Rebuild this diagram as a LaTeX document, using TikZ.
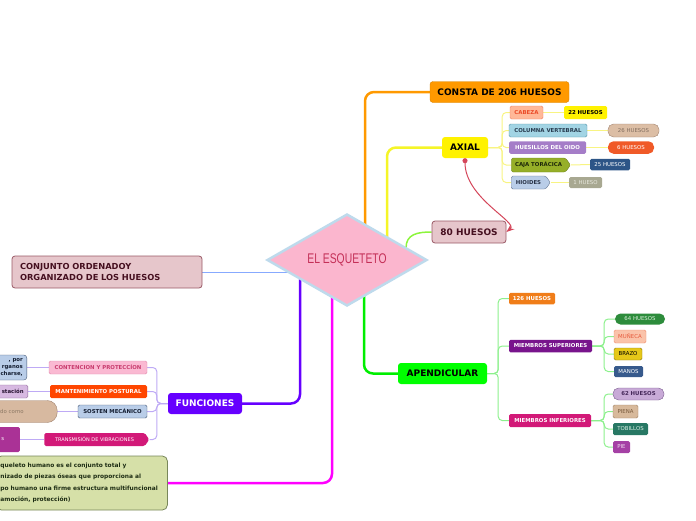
\documentclass[tikz,border=0pt]{standalone}
\usepackage{fontspec}
\setmainfont{DejaVu Sans}
\newfontfamily\titlefont[FakeStretch=0.74]{Liberation Sans}
\usetikzlibrary{shapes.geometric,shapes.symbols,backgrounds,calc,arrows.meta}

\definecolor{esqpink}{RGB}{251,182,206}
\definecolor{esqblue}{RGB}{190,218,236}
\definecolor{esqtext}{RGB}{196,48,88}
\definecolor{conorange}{RGB}{255,153,0}
\definecolor{conyellow}{RGB}{245,245,40}
\definecolor{conlime}{RGB}{140,245,60}
\definecolor{congreen}{RGB}{0,238,0}
\definecolor{conviolet}{RGB}{102,0,255}
\definecolor{conmagenta}{RGB}{255,0,255}
\definecolor{conblue}{RGB}{135,170,255}
\definecolor{ybr}{RGB}{248,244,130}
\definecolor{gbr}{RGB}{140,240,140}
\definecolor{vbr}{RGB}{190,170,245}
\definecolor{relred}{RGB}{212,70,90}
\definecolor{maroonfill}{RGB}{230,198,203}
\definecolor{maroonline}{RGB}{154,90,102}
\definecolor{maroontext}{RGB}{70,16,32}

\tikzset{
  every node/.style={inner sep=0pt},
  esq/.style={shape=diamond, fill=esqpink, draw=esqblue, line width=2.5pt,
    minimum width=160pt, minimum height=92pt, text=esqtext,
    font=\titlefont\fontsize{14}{15}\selectfont},
  topic/.style={rounded corners=3pt, font=\bfseries\fontsize{9}{10}\selectfont, minimum height=21pt},
  sub/.style={rounded corners=1.5pt, font=\bfseries\fontsize{5.4}{6}\selectfont, minimum height=12.5pt},
  leaf/.style={sub, font=\fontsize{5.4}{6}\selectfont},
  pill/.style={leaf, rounded corners=5.5pt},
  tag/.style={shape=signal, signal to=east, signal pointer angle=110},
  branch/.style={line width=2.5pt, rounded corners=9pt},
  twig/.style={line width=1pt, rounded corners=4pt},
}

\begin{document}
\begin{tikzpicture}[x=1pt,y=-1pt]
\useasboundingbox (0,0) rectangle (696,520);

% centro
\node[esq] (esq) at (347,260) {EL ESQUETETO};

% ramas de la derecha
\node[topic, fill=conorange, draw=conorange!85!black, line width=0.4pt, minimum width=139pt] (consta) at (499.5,92) {CONSTA DE 206 HUESOS};
\node[topic, fill=yellow, minimum width=46pt] (axial) at (465,147.5) {AXIAL};
\node[topic, fill=maroonfill, draw=maroonline, line width=0.8pt, text=maroontext, minimum width=74pt, minimum height=22pt] (h80) at (469,232) {80 HUESOS};
\node[topic, fill=green, minimum width=89pt] (apend) at (442.5,373.5) {APENDICULAR};

% axial
\node[sub, fill={rgb,255:red,255;green,184;blue,152}, draw={rgb,255:red,240;green,130;blue,100}, text={rgb,255:red,235;green,75;blue,40}, minimum width=33pt, minimum height=13pt] (cabeza) at (526.5,112.5) {CABEZA};
\node[sub, fill=yellow, minimum width=43pt, minimum height=13pt] (h22) at (585.5,112.5) {22 HUESOS};
\node[sub, fill={rgb,255:red,162;green,212;blue,228}, draw={rgb,255:red,90;green,150;blue,170}, text={rgb,255:red,40;green,60;blue,80}, minimum width=78pt, minimum height=13pt] (columna) at (548,130.5) {COLUMNA VERTEBRAL};
\node[pill, fill={rgb,255:red,220;green,190;blue,165}, draw={rgb,255:red,160;green,130;blue,110}, text={rgb,255:red,130;green,110;blue,95}, minimum width=51pt, minimum height=13pt] (h26) at (633.5,130.5) {26 HUESOS};
\node[sub, fill={rgb,255:red,165;green,125;blue,200}, text=white, minimum width=77pt] (oido) at (547.5,147.5) {HUESILLOS DEL OIDO};
\node[pill, fill={rgb,255:red,240;green,90;blue,40}, text=white, minimum width=46pt] (h6) at (631,147.5) {6 HUESOS};
\node[sub, tag, fill={rgb,255:red,150;green,175;blue,40}, draw={rgb,255:red,110;green,130;blue,30}, text={rgb,255:red,30;green,40;blue,10}, minimum width=59pt, minimum height=14pt] (caja) at (538.5,165) {CAJA TORÁCICA};
\node[leaf, fill={rgb,255:red,45;green,85;blue,135}, text=white, minimum width=40pt, minimum height=11.5pt] (h25) at (610,164.5) {25 HUESOS};
\node[sub, tag, fill={rgb,255:red,185;green,205;blue,232}, draw={rgb,255:red,100;green,120;blue,150}, text={rgb,255:red,40;green,50;blue,70}, minimum width=39pt, minimum height=13pt] (hioides) at (528.5,182.5) {HIOIDES};
\node[leaf, fill={rgb,255:red,168;green,168;blue,145}, text={rgb,255:red,232;green,232;blue,222}, minimum width=33pt, minimum height=11pt] (h1) at (585.5,182.5) {1 HUESO};

% apendicular
\node[sub, fill={rgb,255:red,240;green,125;blue,25}, text=white, minimum width=46pt, minimum height=11.5pt] (h126) at (532,298.5) {126 HUESOS};
\node[sub, fill={rgb,255:red,120;green,20;blue,140}, text=white, minimum width=83pt] (msup) at (550.5,346) {MIEMBROS SUPERIORES};
\node[sub, fill={rgb,255:red,210;green,25;blue,120}, text=white, minimum width=82pt, minimum height=13pt] (minf) at (550,420.5) {MIEMBROS INFERIORES};
\node[pill, fill={rgb,255:red,45;green,140;blue,60}, text={rgb,255:red,220;green,240;blue,220}, minimum width=50pt, minimum height=11pt] (h64) at (640,319) {64 HUESOS};
\node[leaf, fill={rgb,255:red,250;green,195;blue,170}, draw={rgb,255:red,240;green,140;blue,110}, text={rgb,255:red,230;green,90;blue,60}, minimum width=32pt, minimum height=13pt] (muneca) at (630,336.5) {MUÑECA};
\node[leaf, fill={rgb,255:red,230;green,200;blue,25}, draw={rgb,255:red,140;green,120;blue,20}, text=black, minimum width=28pt, minimum height=12pt] (brazo) at (628,354) {BRAZO};
\node[leaf, fill={rgb,255:red,55;green,90;blue,140}, text=white, minimum width=29pt, minimum height=11pt] (manos) at (628.5,371.5) {MANOS};
\node[pill, fill={rgb,255:red,200;green,170;blue,215}, draw={rgb,255:red,120;green,90;blue,140}, text={rgb,255:red,70;green,40;blue,90}, font=\bfseries\fontsize{5.4}{6}\selectfont, minimum width=51pt, minimum height=12pt] (h62) at (638.5,394) {62 HUESOS};
\node[leaf, fill={rgb,255:red,215;green,185;blue,155}, draw={rgb,255:red,160;green,130;blue,100}, text={rgb,255:red,120;green,90;blue,60}, minimum width=25pt, minimum height=13pt] (pierna) at (625.5,411.5) {PIENA};
\node[leaf, fill={rgb,255:red,40;green,120;blue,100}, text={rgb,255:red,220;green,240;blue,230}, minimum width=35pt, minimum height=12pt] (tobillos) at (630.5,429) {TOBILLOS};
\node[leaf, fill={rgb,255:red,165;green,65;blue,165}, text={rgb,255:red,240;green,220;blue,240}, minimum width=17pt, minimum height=12pt] (pie) at (621.5,447) {PIE};

% ramas de la izquierda
\node[topic, fill=maroonfill, draw=maroonline, line width=0.8pt, text=maroontext, font=\bfseries\fontsize{8.3}{11}\selectfont, align=left, text width=174pt, inner xsep=8pt, minimum height=32pt] (conj) at (107,272) {CONJUNTO ORDENADOY\\ORGANIZADO DE LOS HUESOS};
\node[topic, fill=conviolet, text=white, minimum width=74pt] (func) at (205,403.5) {FUNCIONES};

% funciones
\node[sub, fill={rgb,255:red,250;green,185;blue,210}, draw={rgb,255:red,225;green,140;blue,175}, text={rgb,255:red,200;green,60;blue,110}, minimum width=98pt, minimum height=13pt] (contencion) at (98,367.5) {CONTENCION Y PROTECCÍON};
\node[sub, fill={rgb,255:red,255;green,70;blue,0}, text=white, minimum width=97pt, minimum height=13pt] (mant) at (98.5,391.5) {MANTENIMIENTO POSTURAL};
\node[sub, fill={rgb,255:red,185;green,205;blue,232}, draw={rgb,255:red,70;green,90;blue,120}, text={rgb,255:red,20;green,30;blue,50}, minimum width=69pt, minimum height=13pt] (sosten) at (112.5,411.5) {SOSTEN MECÁNICO};
\node[leaf, tag, fill={rgb,255:red,210;green,25;blue,120}, text=white, font=\fontsize{5}{6}\selectfont, minimum width=105pt, minimum height=13pt] (transm) at (94.5,439.5) {TRANSMISIÓN DE VIBRACIONES};

% cortados por el borde
\node[sub, anchor=east, fill={rgb,255:red,185;green,205;blue,232}, draw={rgb,255:red,70;green,90;blue,120}, text={rgb,255:red,20;green,30;blue,50}, rounded corners=3pt, font=\bfseries\fontsize{5.4}{7}\selectfont, align=right, text width=52pt, inner xsep=4pt, minimum height=25pt] (lc1) at (27,367.5) {, por\\rganos\\charse,};
\node[sub, anchor=east, fill={rgb,255:red,215;green,185;blue,225}, draw={rgb,255:red,140;green,100;blue,150}, text={rgb,255:red,40;green,20;blue,50}, align=right, text width=46pt, inner xsep=4pt, minimum height=13pt] (lc2) at (28,391.5) {stación};
\node[leaf, anchor=west, fill={rgb,255:red,215;green,185;blue,160}, draw={rgb,255:red,160;green,130;blue,110}, text={rgb,255:red,140;green,120;blue,100}, rounded corners=10pt, align=left, text width=34pt, inner xsep=23pt, minimum height=22pt] (lc3) at (-23,411.5) {do como};
\node[leaf, anchor=east, fill={rgb,255:red,170;green,50;blue,150}, text=white, minimum width=34pt, minimum height=25pt] (lc4) at (20,439.5) {s};
\node[anchor=west, fill={rgb,255:red,214;green,224;blue,168}, draw={rgb,255:red,120;green,135;blue,90}, line width=0.8pt, rounded corners=5pt, text={rgb,255:red,30;green,45;blue,20}, font=\bfseries\fontsize{5.9}{11.3}\selectfont, align=left, text width=163pt, inner xsep=4pt, minimum height=54pt] (defn) at (-4,483) {queleto humano es el conjunto total y\\nizado de piezas óseas que proporciona al\\po humano una firme estructura multifuncional\\amoción, protección)};

% conectores
\begin{scope}[on background layer]
\draw[branch, conorange] ($(esq.center)+(18,-30)$) |- (consta.west);
\draw[branch, conyellow] ($(esq.center)+(40,-18)$) |- (axial.west);
\draw[line width=1.5pt, conlime] ($(esq.center)+(59,-12)$) .. controls +(0,-14) and +(-14,0) .. (h80.west);
\draw[branch, congreen] ($(esq.center)+(17,20)$) |- (apend.west);
\draw[branch, conviolet] ($(esq.center)+(-47,5)$) |- (func.east);
\draw[branch, conmagenta] ($(esq.center)+(-15,30)$) |- (defn.east);
\draw[line width=1pt, conblue] (conj.east) -- ($(esq.center)+(-49,12)$);

\foreach \c in {cabeza,columna,oido,caja,hioides}
  \draw[twig, ybr] (axial.east) -- ++(14,0) |- (\c.west);
\draw[twig, ybr] (cabeza.east) -- (h22.west);
\draw[twig, ybr] (columna.east) -- (h26.west);
\draw[twig, ybr] (oido.east) -- (h6.west);
\draw[twig, ybr] (caja.east) -- (h25.west);
\draw[twig, ybr] (hioides.east) -- (h1.west);

\foreach \c in {h126,msup,minf}
  \draw[twig, gbr] (apend.east) -- ++(11,0) |- (\c.west);
\foreach \c in {h64,muneca,brazo,manos}
  \draw[twig, gbr] (msup.east) -- ++(12,0) |- (\c.west);
\foreach \c in {h62,pierna,tobillos,pie}
  \draw[twig, gbr] (minf.east) -- ++(13,0) |- (\c.west);

\foreach \c in {contencion,mant,sosten,transm}
  \draw[twig, vbr] (func.west) -- ++(-11,0) |- (\c.east);
\draw[twig, vbr] (contencion.west) -- (lc1.east);
\draw[twig, vbr] (mant.west) -- (lc2.east);
\draw[twig, vbr] (sosten.west) -- (lc3.east);
\draw[twig, vbr] (transm.west) -- (lc4.east);
\end{scope}

% relacion
\draw[relred, line width=1pt, {Circle[length=5pt]}-{Stealth[length=8pt]}] (axial.south) .. controls +(0,40) and +(12,-10) .. (h80.east);
\end{tikzpicture}
\end{document}
